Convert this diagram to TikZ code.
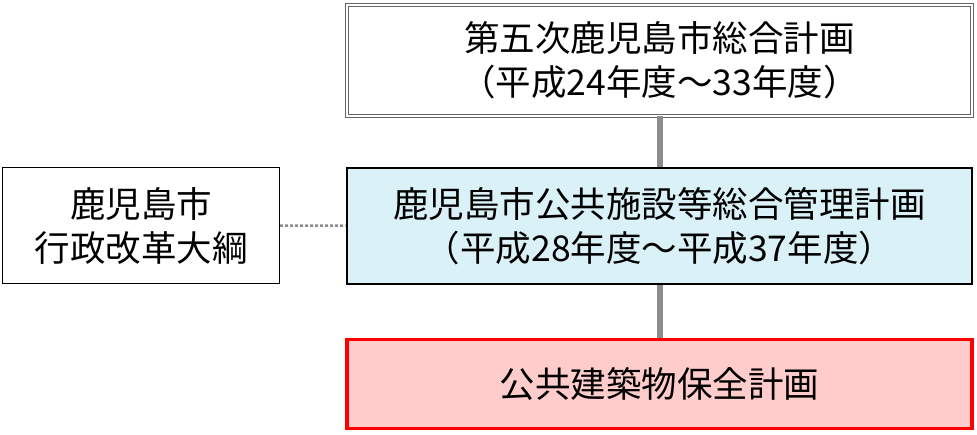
\documentclass[tikz,border=0pt]{standalone}
\usepackage{fontspec}
\setmainfont{Noto Sans CJK JP}
\usetikzlibrary{positioning}

\tikzset{
  planbox/.style={draw, minimum width=625pt, align=center, font=\fontsize{35.5}{44}\selectfont, inner sep=0pt},
  link/.style={line width=6pt, draw=black!45},
}

\begin{document}
\begin{tikzpicture}[x=1pt,y=-1pt]
  \useasboundingbox (0,0) rectangle (977,435);

  % upper plan
  \node[planbox, minimum height=111pt, draw=black!60, line width=0.9pt, double=white, double distance=1.4pt] (sogo) at (659.5,60.5) {第五次鹿児島市総合計画\\（平成24年度～33年度）};

  % management plan
  \node[planbox, minimum height=116pt, line width=2.8pt, fill={rgb,255:red,218;green,242;blue,247}] (kanri) at (659.5,226) {鹿児島市公共施設等総合管理計画\\（平成28年度～平成37年度）};

  % side document
  \node[planbox, minimum width=277pt, minimum height=116pt, line width=1pt] (taiko) at (141,225.5) {鹿児島市\\行政改革大綱};

  % target plan
  \node[planbox, minimum height=89pt, line width=3.5pt, draw=red, fill={rgb,255:red,255;green,204;blue,204}] (hozen) at (659.5,384) {公共建築物保全計画};

  % links
  \draw[link] (sogo) -- (kanri);
  \draw[link] (kanri) -- (hozen);
  \draw[line width=2.5pt, draw=black!45, dash pattern=on 3pt off 2pt] (taiko) -- (kanri);
\end{tikzpicture}
\end{document}
